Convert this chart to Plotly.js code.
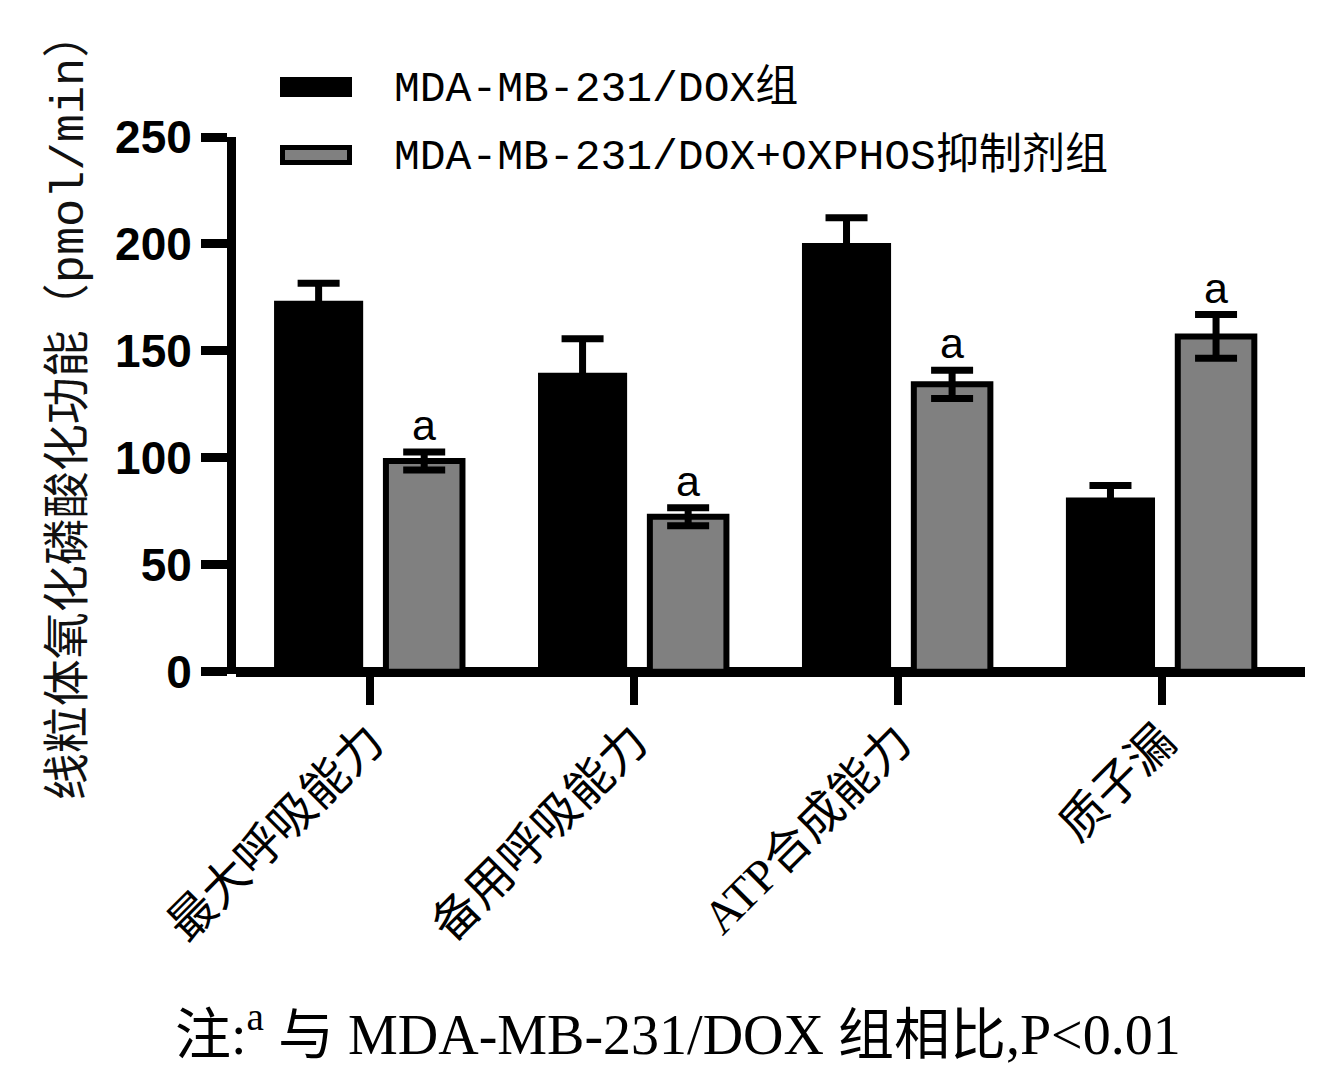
<!DOCTYPE html>
<html>
<head>
<meta charset="utf-8">
<script src="https://cdn.plot.ly/plotly-3.0.1.min.js"></script>
<style>html,body{margin:0;padding:0;background:#fff;}#chart{width:1344px;height:1078px;}</style>
</head>
<body>
<div id="chart"></div>
<script>
// ---- data ----
const categories = ['最大呼吸能力', '备用呼吸能力', 'ATP合成能力', '质子漏'];
const seriesNames = ['MDA-MB-231/DOX组', 'MDA-MB-231/DOX+OXPHOS抑制剂组'];
const ctrlValues = [173, 139.3, 200, 81];
const ctrlErrors = [8.6, 16.4, 12.2, 6.1];
const inhibValues = [98.6, 72.5, 134.4, 156.8];
const inhibErrors = [4.2, 4.2, 6.6, 10.2];
const sigMarks = ['a', 'a', 'a', 'a'];
const yTicks = [0, 50, 100, 150, 200, 250];
const footnote = '注:<sup>a</sup> 与 MDA-MB-231/DOX 组相比,P&lt;0.01';
const yTitle = '线粒体氧化磷酸化功能（pmol/min）';

// ---- layout geometry (pixels) ----
const W = 1344, H = 1078;
const L = 236, R = 1305, T = 137, B = 674;
const pw = R - L, ph = B - T;
const px2x = p => (p - L) / pw;
const py2y = p => (B - p) / ph;

const blackOffset = -0.36, blackWidth = 0.33;
const grayOffset = 0.06, grayWidth = 0.29;

const traces = [
  {
    type: 'bar', name: seriesNames[0], x: categories, y: ctrlValues,
    offset: blackOffset, width: blackWidth,
    marker: {color: '#000000', line: {color: '#000000', width: 2}},
    error_y: {type: 'data', array: ctrlErrors, visible: true, color: '#000000', thickness: 7, width: 21},
    hoverinfo: 'x+y'
  },
  {
    type: 'bar', name: seriesNames[1], x: categories, y: inhibValues,
    offset: grayOffset, width: grayWidth,
    marker: {color: '#808080', line: {color: '#000000', width: 6}},
    error_y: {type: 'data', array: inhibErrors, visible: true, color: '#000000', thickness: 7, width: 21},
    hoverinfo: 'x+y'
  }
];

const annotations = [];
inhibValues.forEach((v, i) => {
  annotations.push({
    x: i + grayOffset + grayWidth / 2, y: v + inhibErrors[i], xref: 'x', yref: 'y',
    text: sigMarks[i], showarrow: false, xanchor: 'center', yanchor: 'bottom', yshift: 1,
    font: {family: 'Liberation Sans, Arial, sans-serif', size: 43, color: '#000'}
  });
});
// legend texts
annotations.push({
  x: px2x(392), y: py2y(89), xref: 'paper', yref: 'paper', text: seriesNames[0],
  showarrow: false, xanchor: 'left', yanchor: 'middle',
  font: {family: 'Liberation Mono, Noto Sans CJK SC, monospace', size: 43, color: '#000'}
});
annotations.push({
  x: px2x(392), y: py2y(157), xref: 'paper', yref: 'paper', text: seriesNames[1],
  showarrow: false, xanchor: 'left', yanchor: 'middle',
  font: {family: 'Liberation Mono, Noto Sans CJK SC, monospace', size: 43, color: '#000'}
});
// footnote
annotations.push({
  x: px2x(678), y: py2y(1030), xref: 'paper', yref: 'paper', text: footnote,
  showarrow: false, xanchor: 'center', yanchor: 'middle',
  font: {family: 'Liberation Serif, Noto Sans CJK SC, serif', size: 56, color: '#000'}
});

const shapes = [
  {type: 'rect', xref: 'paper', yref: 'paper', x0: px2x(280), x1: px2x(352), y0: py2y(97), y1: py2y(77),
   fillcolor: '#000', line: {width: 0}},
  {type: 'rect', xref: 'paper', yref: 'paper', x0: px2x(282.5), x1: px2x(349.5), y0: py2y(162.5), y1: py2y(147.5),
   fillcolor: '#808080', line: {color: '#000', width: 5}}
];

const layout = {
  width: W, height: H,
  margin: {l: L, r: W - R, t: T, b: H - B, pad: 0},
  paper_bgcolor: '#fff', plot_bgcolor: '#fff',
  showlegend: false,
  barmode: 'overlay',
  xaxis: {
    type: 'category', range: [-0.508, 3.542], fixedrange: true,
    showline: false, showgrid: false, zeroline: false,
    ticks: 'outside', ticklen: 30, tickwidth: 8, tickcolor: '#000',
    tickangle: -45, ticklabelstandoff: -10,
    tickfont: {family: 'Liberation Serif, Noto Sans CJK SC, serif', size: 47, color: '#000'}
  },
  yaxis: {
    range: [-1, 250], fixedrange: true,
    tickvals: yTicks, ticktext: yTicks.map(String),
    showline: true, linewidth: 9, linecolor: '#000',
    showgrid: false,
    zeroline: true, zerolinewidth: 10, zerolinecolor: '#000',
    ticks: 'outside', ticklen: 26, tickwidth: 9, tickcolor: '#000',
    tickfont: {family: 'Liberation Sans, Arial, sans-serif', size: 46, color: '#000', weight: 'bold'},
    title: {text: yTitle, standoff: 20, font: {family: 'Liberation Mono, Noto Sans CJK SC, monospace', size: 47, color: '#111'}}
  },
  annotations: annotations,
  shapes: shapes
};

Plotly.newPlot('chart', traces, layout, {displayModeBar: false, staticPlot: true});
</script>
</body>
</html>
